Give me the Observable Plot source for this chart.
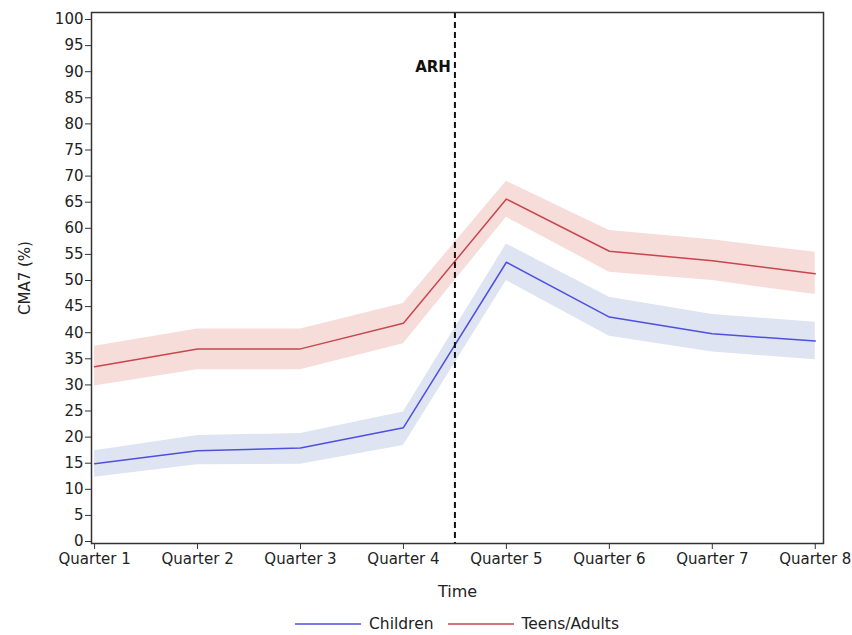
<!DOCTYPE html>
<html>
<head>
<meta charset="utf-8">
<script src="https://cdn.jsdelivr.net/npm/d3@7"></script>
<script src="https://cdn.jsdelivr.net/npm/@observablehq/plot@0.6"></script>
<style>
  html, body { margin: 0; padding: 0; background: #fff; }
  #chart { width: 852px; font-family: "DejaVu Sans", sans-serif; }
  #legend { display: flex; align-items: center; margin-left: 295px; margin-top: 8px; font-size: 15.5px; color: #222; }
  #legend .item { display: flex; align-items: center; margin-right: 14px; }
  #legend svg { margin-right: 8px; }
</style>
</head>
<body>
<div id="chart"></div>
<script>
const quarters = [1, 2, 3, 4, 5, 6, 7, 8];
const quarterLabels = ["Quarter 1", "Quarter 2", "Quarter 3", "Quarter 4", "Quarter 5", "Quarter 6", "Quarter 7", "Quarter 8"];
const seriesNames = ["Children", "Teens/Adults"];
const childrenMean = [14.9, 17.4, 17.9, 21.8, 53.5, 43.0, 39.8, 38.4];
const childrenLo   = [12.3, 14.7, 14.8, 18.4, 50.0, 39.3, 36.3, 34.8];
const childrenHi   = [17.4, 20.3, 20.7, 24.8, 57.0, 46.8, 43.5, 42.0];
const teensMean = [33.5, 36.9, 36.9, 41.8, 65.6, 55.6, 53.8, 51.3];
const teensLo   = [29.8, 32.9, 32.9, 37.9, 62.1, 51.6, 50.0, 47.3];
const teensHi   = [37.4, 40.7, 40.7, 45.6, 69.0, 59.6, 57.8, 55.4];
const eventX = 4.5;
const eventLabel = "ARH";
const yTicks = d3.range(0, 101, 5);

const lineColors = ["#4f4fe0", "#c8464f"];
const bandColors = ["#dfe4f2", "#f7ddd9"];

const rows = [];
quarters.forEach((q, i) => {
  rows.push({q, series: seriesNames[0], mean: childrenMean[i], lo: childrenLo[i], hi: childrenHi[i]});
  rows.push({q, series: seriesNames[1], mean: teensMean[i], lo: teensLo[i], hi: teensHi[i]});
});

const chart = Plot.plot({
  width: 852,
  height: 607,
  marginLeft: 91,
  marginRight: 29,
  marginTop: 12,
  marginBottom: 64,
  style: { fontFamily: "'DejaVu Sans', sans-serif", fontSize: "15px", color: "#222", background: "#fff" },
  x: { type: "linear", domain: [0.97, 8.08] },
  y: { domain: [-0.38, 101.34] },
  color: { domain: seriesNames, range: lineColors },
  marks: [
    Plot.areaY(rows.filter(d => d.series === seriesNames[0]), {x: "q", y1: "lo", y2: "hi", fill: bandColors[0], fillOpacity: 1}),
    Plot.areaY(rows.filter(d => d.series === seriesNames[1]), {x: "q", y1: "lo", y2: "hi", fill: bandColors[1], fillOpacity: 1}),
    Plot.line(rows, {x: "q", y: "mean", stroke: "series", z: "series", strokeWidth: 1.5}),
    Plot.ruleX([eventX], {stroke: "#111", strokeWidth: 2, strokeDasharray: "6,4"}),
    Plot.text([eventLabel], {x: eventX, y: 90.8, text: d => d, textAnchor: "end", dx: -4, fontWeight: "bold", fontSize: 15, fill: "#111"}),
    Plot.frame({stroke: "#333", strokeWidth: 1.5}),
    Plot.axisY({ticks: yTicks, tickSize: 6, tickPadding: 2, fontSize: 15, stroke: "#333",
      label: "CMA7 (%)", labelAnchor: "center", labelArrow: "none", labelOffset: 72}),
    Plot.axisX({ticks: quarters, tickFormat: d => quarterLabels[d - 1], tickSize: 6, tickPadding: 4, fontSize: 15, stroke: "#333",
      label: "Time", labelAnchor: "center", labelArrow: "none", labelOffset: 53})
  ]
});
chart.querySelectorAll("g[aria-label='y-axis label'] text").forEach(t => {
  t.setAttribute("font-size", "15");
  t.style.fontSize = "15px";
  t.style.fontWeight = "500";
});
chart.querySelectorAll("g[aria-label='x-axis label'] text").forEach(t => {
  t.setAttribute("font-size", "16");
  t.style.fontSize = "16px";
});
document.getElementById("chart").appendChild(chart);

const legend = document.createElement("div");
legend.id = "legend";
seriesNames.forEach((name, i) => {
  const item = document.createElement("div");
  item.className = "item";
  item.innerHTML = `<svg width="66" height="4"><line x1="0" y1="2" x2="66" y2="2" stroke="${lineColors[i]}" stroke-width="1.5"/></svg><span>${name}</span>`;
  legend.appendChild(item);
});
document.getElementById("chart").appendChild(legend);
</script>
</body>
</html>
